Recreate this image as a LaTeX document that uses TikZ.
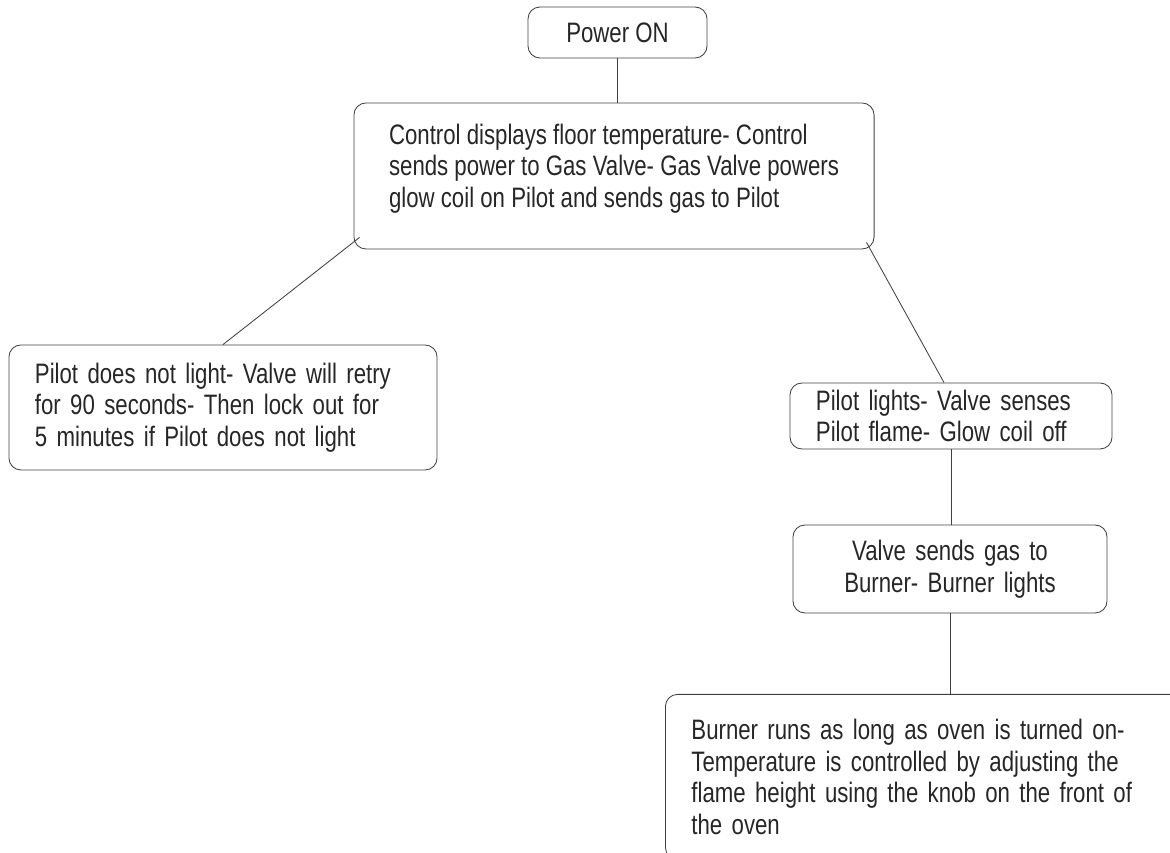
\documentclass[tikz,border=0pt]{standalone}
\usepackage{fontspec}
\setmainfont{Liberation Sans}[FakeStretch=0.79]
\usepackage{tikz}
\usetikzlibrary{positioning,calc}
\hyphenpenalty=10000

\begin{document}
\begin{tikzpicture}[
  x=0.025cm,y=0.025cm,
  box/.style={draw=black!75,rounded corners=0.3cm,line width=0.6pt,
    text=black!85,inner xsep=0.65cm,inner ysep=2pt,
    font=\fontsize{20}{22.5}\selectfont},
  leftbox/.style={box,align=left},
  midbox/.style={box,align=center},
  link/.style={draw=black!75,line width=0.6pt}
]
\useasboundingbox (0,0) rectangle (1170,853);
\node[midbox,minimum width=4.475cm,minimum height=1.275cm] (power)
  at (617.5,820.5) {Power ON};
\node[leftbox,inner xsep=0pt,minimum width=13cm,minimum height=3.65cm] (control)
  at (614,677) {Control displays floor temperature- Control\\
  sends power to Gas Valve- Gas Valve powers\\
  glow coil on Pilot and sends gas to Pilot\\[-8pt]};
\node[leftbox,text width=9.4cm,minimum height=3.125cm] (nolight)
  at (223,445.5) {Pilot does not light- Valve will retry\\
  for 90 seconds- Then lock out for\\
  5 minutes if Pilot does not light};
\node[leftbox,text width=6.75cm,minimum height=1.65cm] (pilot)
  at (951,437) {Pilot lights- Valve senses\\
  Pilot flame- Glow coil off};
\node[midbox,text width=6.55cm,minimum height=2.2cm] (valve)
  at (950,284) {Valve sends gas to\\
  Burner- Burner lights};
\node[leftbox,text width=12.5cm,minimum height=4.125cm,anchor=north west]
  (burner) at (665,159) {Burner runs as long as oven is turned on-\\
  Temperature is controlled by adjusting the\\
  flame height using the knob on the front of\\
  the oven};
% connectors
\draw[link] (power.south) -- (power.south |- control.north);
\draw[link] ([shift={(6,12)}]control.south west) -- (nolight.north);
\draw[link] ([shift={(-8,7)}]control.south east) -- ([shift={(-7,0)}]pilot.north);
\draw[link] (pilot.south) -- (pilot.south |- valve.north);
\draw[link] (valve.south) -- (valve.south |- burner.north);
\end{tikzpicture}
\end{document}
